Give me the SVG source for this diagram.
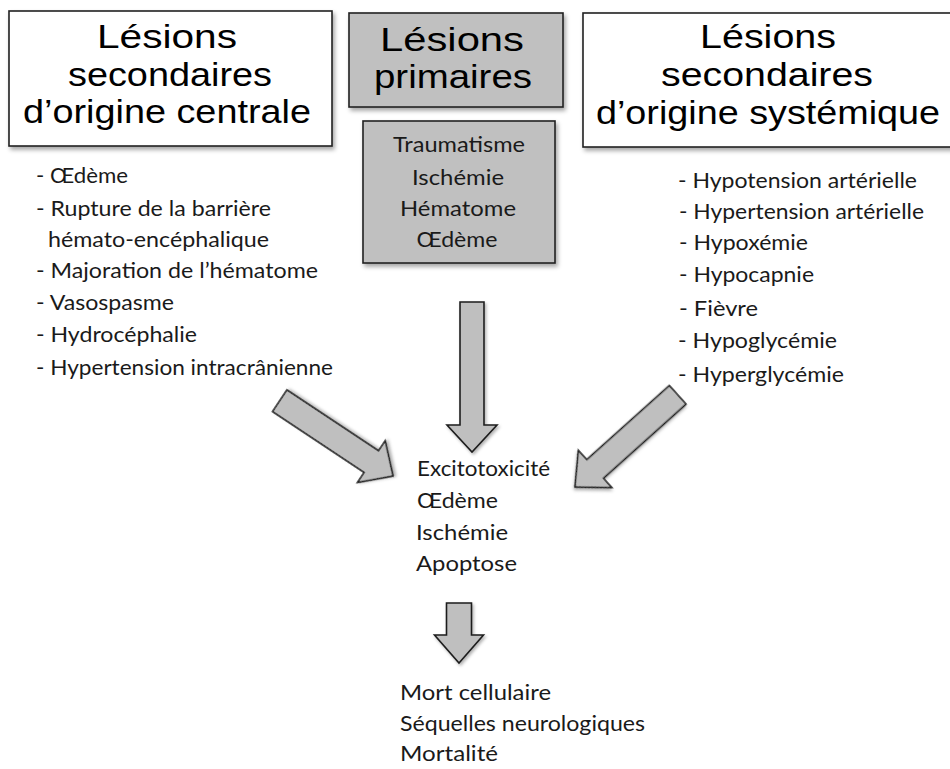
<svg xmlns="http://www.w3.org/2000/svg" width="950" height="769" viewBox="0 0 950 769">
<defs>
<filter id="sh" x="-10%" y="-10%" width="130%" height="130%">
<feDropShadow dx="2" dy="3" stdDeviation="2" flood-color="#000" flood-opacity="0.35"/>
</filter>
<filter id="ash" x="-20%" y="-20%" width="140%" height="140%">
<feDropShadow dx="1.5" dy="2" stdDeviation="1.5" flood-color="#000" flood-opacity="0.3"/>
</filter>
</defs>
<style>
.box{stroke:#222;stroke-width:1.6;filter:url(#sh)}
.white{fill:#fff}
.grey{fill:#c0c0c0}
.title{font-family:"Liberation Sans",Arial,sans-serif;font-size:34px;fill:#000;text-anchor:middle}
.t{font-family:Lato,"Noto Sans",sans-serif;font-size:21px;fill:#1a1a1a}
.c{text-anchor:middle}
.arrow{fill:#bfbfbf;stroke:#1e1e1e;stroke-width:1.6;stroke-linejoin:miter;filter:url(#ash)}
</style>
<rect width="950" height="769" fill="#fff"/>

<g id="secondaires-centrale">
<rect class="box white" x="9" y="11" width="323" height="135"/>
<text class="title" x="167" y="48" textLength="140" lengthAdjust="spacingAndGlyphs">Lésions</text>
<text class="title" x="170" y="86" textLength="204" lengthAdjust="spacingAndGlyphs">secondaires</text>
<text class="title" x="167" y="123" textLength="288" lengthAdjust="spacingAndGlyphs">d’origine centrale</text>
</g>

<g id="primaires">
<rect class="box grey" x="349" y="13" width="214" height="94"/>
<text class="title" x="452" y="51" textLength="144" lengthAdjust="spacingAndGlyphs">Lésions</text>
<text class="title" x="453" y="88" textLength="158" lengthAdjust="spacingAndGlyphs">primaires</text>
</g>

<g id="primaires-liste">
<rect class="box grey" x="363" y="121" width="192" height="142"/>
<text class="t c" x="459" y="152" textLength="132" lengthAdjust="spacingAndGlyphs">Traumatisme</text>
<text class="t c" x="458" y="185" textLength="92" lengthAdjust="spacingAndGlyphs">Ischémie</text>
<text class="t c" x="458" y="216" textLength="116" lengthAdjust="spacingAndGlyphs">Hématome</text>
<text class="t c" x="457" y="247" textLength="81" lengthAdjust="spacingAndGlyphs">Œdème</text>
</g>

<g id="secondaires-systemique">
<rect class="box white" x="583" y="13" width="372" height="134"/>
<text class="title" x="768" y="48" textLength="136" lengthAdjust="spacingAndGlyphs">Lésions</text>
<text class="title" x="767" y="86" textLength="212" lengthAdjust="spacingAndGlyphs">secondaires</text>
<text class="title" x="768" y="124" textLength="344" lengthAdjust="spacingAndGlyphs">d’origine systémique</text>
</g>

<g id="liste-centrale">
<text class="t" x="36" y="183" textLength="92" lengthAdjust="spacingAndGlyphs">- Œdème</text>
<text class="t" x="36" y="216" textLength="235" lengthAdjust="spacingAndGlyphs">- Rupture de la barrière</text>
<text class="t" x="48" y="247" textLength="221" lengthAdjust="spacingAndGlyphs">hémato-encéphalique</text>
<text class="t" x="36" y="278" textLength="282" lengthAdjust="spacingAndGlyphs">- Majoration de l’hématome</text>
<text class="t" x="36" y="310" textLength="138" lengthAdjust="spacingAndGlyphs">- Vasospasme</text>
<text class="t" x="36" y="342" textLength="161" lengthAdjust="spacingAndGlyphs">- Hydrocéphalie</text>
<text class="t" x="36" y="375" textLength="297" lengthAdjust="spacingAndGlyphs">- Hypertension intracrânienne</text>
</g>

<g id="liste-systemique">
<text class="t" x="678" y="188" textLength="239" lengthAdjust="spacingAndGlyphs">- Hypotension artérielle</text>
<text class="t" x="679" y="219" textLength="245" lengthAdjust="spacingAndGlyphs">- Hypertension artérielle</text>
<text class="t" x="679" y="250" textLength="129" lengthAdjust="spacingAndGlyphs">- Hypoxémie</text>
<text class="t" x="679" y="282" textLength="135" lengthAdjust="spacingAndGlyphs">- Hypocapnie</text>
<text class="t" x="679" y="316" textLength="79" lengthAdjust="spacingAndGlyphs">- Fièvre</text>
<text class="t" x="678" y="348" textLength="159" lengthAdjust="spacingAndGlyphs">- Hypoglycémie</text>
<text class="t" x="678" y="382" textLength="166" lengthAdjust="spacingAndGlyphs">- Hyperglycémie</text>
</g>

<g id="mecanismes">
<text class="t" x="417" y="476" textLength="133" lengthAdjust="spacingAndGlyphs">Excitotoxicité</text>
<text class="t" x="417" y="508" textLength="81" lengthAdjust="spacingAndGlyphs">Œdème</text>
<text class="t" x="416" y="540" textLength="92" lengthAdjust="spacingAndGlyphs">Ischémie</text>
<text class="t" x="416" y="571" textLength="101" lengthAdjust="spacingAndGlyphs">Apoptose</text>
</g>

<g id="consequences">
<text class="t" x="400" y="700" textLength="151" lengthAdjust="spacingAndGlyphs">Mort cellulaire</text>
<text class="t" x="400" y="731" textLength="245" lengthAdjust="spacingAndGlyphs">Séquelles neurologiques</text>
<text class="t" x="400" y="761" textLength="98" lengthAdjust="spacingAndGlyphs">Mortalité</text>
</g>

<g id="connecteurs">
<path class="arrow" transform="translate(472,452)" d="M -12,-150 H 12 V -27 H 25 L 0,0 L -25,-27 H -12 Z"/>
<path class="arrow" transform="translate(393,476) rotate(-56.4)" d="M -13,-136 H 13 V -26 H 25 L 0,0 L -25,-26 H -13 Z"/>
<path class="arrow" transform="translate(575,487) rotate(48.1)" d="M -12.5,-138 H 12.5 V -27 H 25 L 0,0 L -25,-27 H -12.5 Z"/>
<path class="arrow" transform="translate(459,663)" d="M -12.5,-60 H 12.5 V -28 H 24.5 L 0,0 L -24.5,-28 H -12.5 Z"/>
</g>
</svg>
